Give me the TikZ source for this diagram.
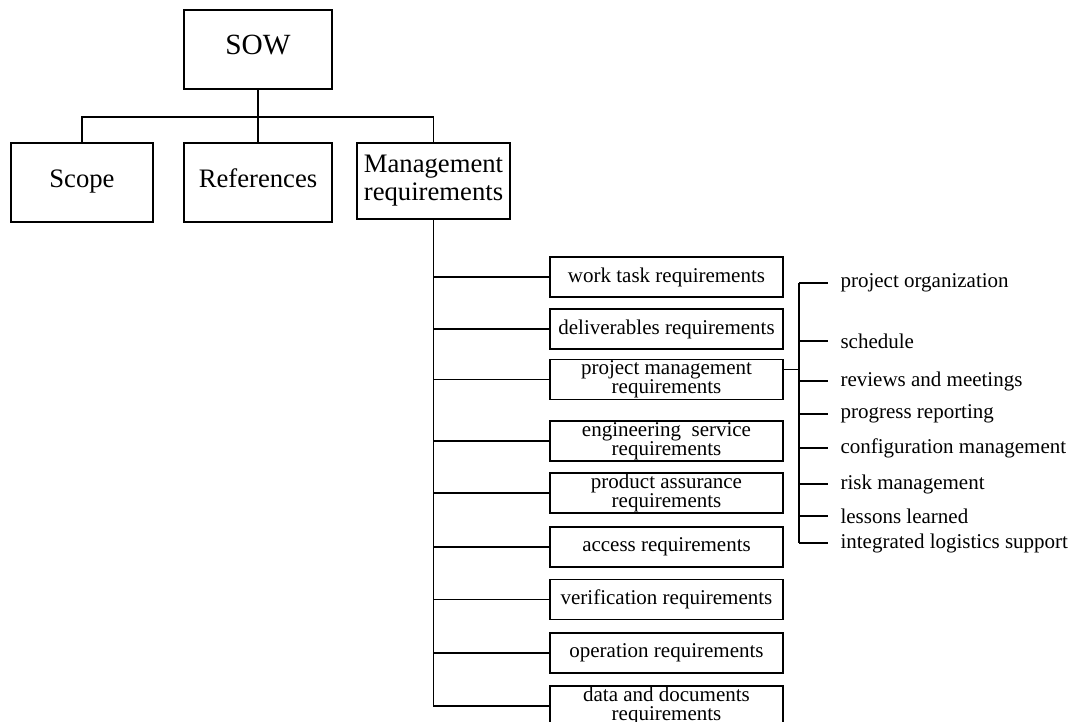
\documentclass[tikz,border=0pt]{standalone}
\usepackage{fontspec}
\setmainfont{Liberation Serif}
\usetikzlibrary{calc}

\begin{document}
\begin{tikzpicture}[x=0.75pt,y=-0.75pt,line width=0.8pt,
  topbox/.style={draw,minimum height=59.25pt,inner sep=0pt,align=center,font=\fontsize{20}{21}\selectfont},
  onebox/.style={topbox,text height=0.74em,text depth=0pt},
  reqbox/.style={draw,minimum width=174.75pt,minimum height=30pt,inner sep=0pt,align=center,font=\fontsize{15.75}{14.5}\selectfont},
  item/.style={anchor=west,inner sep=0pt,font=\fontsize{15.75}{16}\selectfont}]
  \useasboundingbox (0,0) rectangle (1076,722);
  % top level
  \node[onebox,minimum width=111pt,font=\fontsize{22}{24}\selectfont] (sow) at (258,49.5) {SOW};
  \node[onebox,minimum width=106.5pt] (scope) at (82,182.5) {Scope};
  \node[onebox,minimum width=111pt] (refs) at (258,182.5) {References};
  \node[topbox,minimum width=114.75pt,minimum height=57pt] (mgmt) at (433.5,181) {Management\\requirements};
  \coordinate (bus) at (258,117);
  \draw (sow.south) -- (refs.north);
  \draw (scope.north) |- (bus) -| (mgmt.north);
  % requirement boxes
  \foreach \n/\y/\t in {wt/277/work task requirements,dl/329/deliverables requirements,
      pm/379.5/project management\\requirements,es/441/engineering~ service\\requirements,
      pa/493/product assurance\\requirements,ac/547/access requirements,
      vr/599.5/verification requirements,op/653/operation requirements,
      dd/706/data and documents\\requirements}
    {\node[reqbox] (\n) at (666.5,\y) {\t};}
  \draw (mgmt.south) |- (dd.west);
  \foreach \n in {wt,dl,pm,es,pa,ac,vr,op} {\draw (mgmt.south |- \n.west) -- (\n.west);}
  % project management items
  \foreach \n/\y/\t in {porg/283/project organization,sched/341/schedule,revw/381/reviews and meetings,
      prog/414/progress reporting,conf/448/configuration management,risk/484/risk management,
      less/516/lessons learned,ils/543/integrated logistics support}
    {\node[item] (\n) at (840,\y) {\t};}
  \coordinate (brtop) at (799,283);
  \coordinate (pmout) at ($(pm.east)+(0,-10)$);
  \draw (pmout) -- (brtop |- pmout);
  \draw (brtop) -- (brtop |- ils.west);
  \foreach \n in {porg,sched,revw,prog,conf,risk,less,ils} {\draw (brtop |- \n.west) -- ([xshift=-9pt]\n.west);}
\end{tikzpicture}
\end{document}
